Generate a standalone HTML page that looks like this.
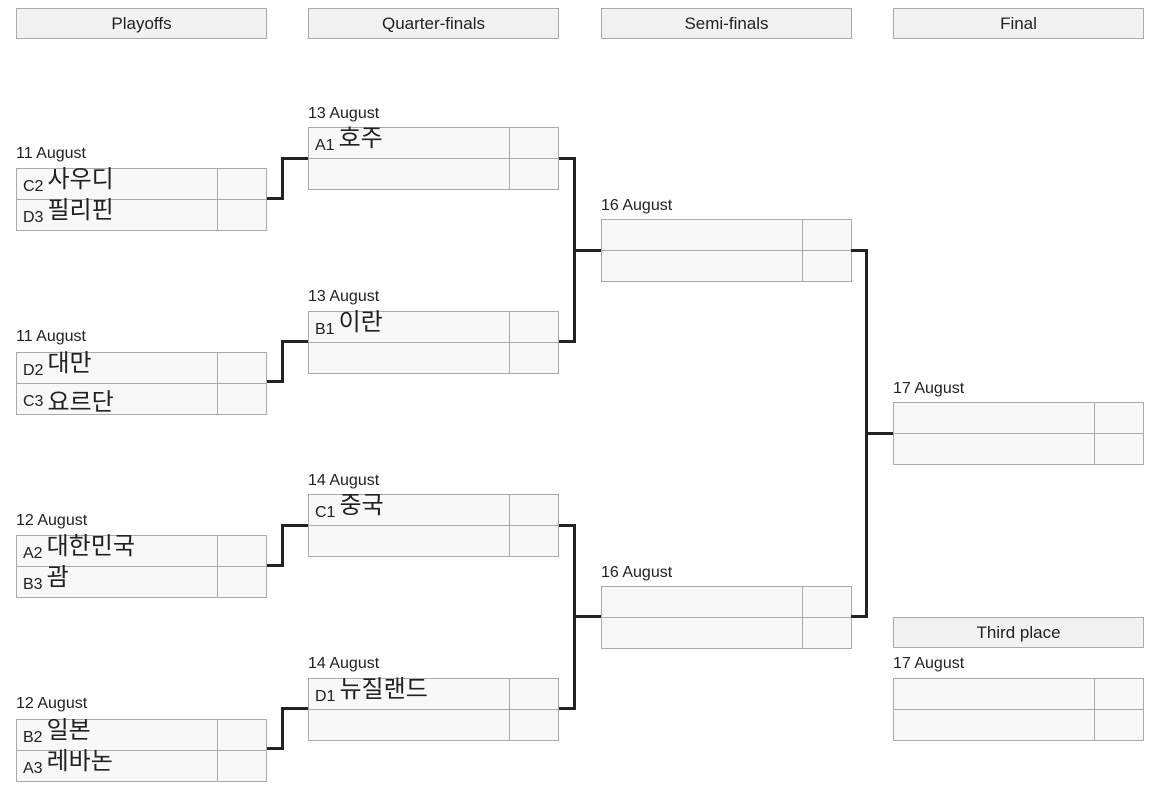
<!DOCTYPE html>
<html><head><meta charset="utf-8"><style>
*{box-sizing:border-box;margin:0;padding:0}
body{width:1166px;height:790px;background:#fff;position:relative;font-family:"Liberation Sans","Noto Sans CJK KR",sans-serif;color:#202122;overflow:hidden}
.h{position:absolute;height:31px;width:251px;background:#f2f2f2;border:1px solid #aaa;text-align:center;font-size:17px;line-height:29px}
.d{position:absolute;font-size:16px;line-height:18px}
.m{position:absolute;width:251px;height:63px}
.r{position:absolute;left:0;width:251px;height:32px;border:1px solid #aaa;background:#f8f8f8}
.r .s{position:absolute;right:0;top:-1px;width:49px;height:32px;border:1px solid #aaa;border-right:none}
.r .t{position:absolute;left:6px;top:6px;font-size:16px;line-height:18px;white-space:nowrap}
.r .k{font-size:24px;position:relative;top:-4px;margin-left:4px}
.l{position:absolute;background:#222}
</style></head><body>
<div class="h" style="left:16px;top:8px">Playoffs</div>
<div class="h" style="left:308px;top:8px">Quarter-finals</div>
<div class="h" style="left:601px;top:8px">Semi-finals</div>
<div class="h" style="left:893px;top:8px">Final</div>
<div class="h" style="left:893px;top:617px">Third place</div>

<!-- playoffs -->
<div class="d" style="left:16px;top:145px">11 August</div>
<div class="m" style="left:16px;top:168px"><div class="r" style="top:0"><span class="t">C2<span class="k">사우디</span></span><div class="s"></div></div><div class="r" style="top:31px"><span class="t">D3<span class="k">필리핀</span></span><div class="s"></div></div></div>
<div class="d" style="left:16px;top:328px">11 August</div>
<div class="m" style="left:16px;top:352px"><div class="r" style="top:0"><span class="t">D2<span class="k">대만</span></span><div class="s"></div></div><div class="r" style="top:31px"><span class="t">C3<span class="k" style="top:4px">요르단</span></span><div class="s"></div></div></div>
<div class="d" style="left:16px;top:512px">12 August</div>
<div class="m" style="left:16px;top:535px"><div class="r" style="top:0"><span class="t">A2<span class="k">대한민국</span></span><div class="s"></div></div><div class="r" style="top:31px"><span class="t">B3<span class="k">괌</span></span><div class="s"></div></div></div>
<div class="d" style="left:16px;top:695px">12 August</div>
<div class="m" style="left:16px;top:719px"><div class="r" style="top:0"><span class="t">B2<span class="k">일본</span></span><div class="s"></div></div><div class="r" style="top:31px"><span class="t">A3<span class="k">레바논</span></span><div class="s"></div></div></div>

<!-- QF -->
<div class="d" style="left:308px;top:105px">13 August</div>
<div class="m" style="left:308px;top:127px"><div class="r" style="top:0"><span class="t">A1<span class="k">호주</span></span><div class="s"></div></div><div class="r" style="top:31px"><div class="s"></div></div></div>
<div class="d" style="left:308px;top:288px">13 August</div>
<div class="m" style="left:308px;top:311px"><div class="r" style="top:0"><span class="t">B1<span class="k">이란</span></span><div class="s"></div></div><div class="r" style="top:31px"><div class="s"></div></div></div>
<div class="d" style="left:308px;top:472px">14 August</div>
<div class="m" style="left:308px;top:494px"><div class="r" style="top:0"><span class="t">C1<span class="k">중국</span></span><div class="s"></div></div><div class="r" style="top:31px"><div class="s"></div></div></div>
<div class="d" style="left:308px;top:655px">14 August</div>
<div class="m" style="left:308px;top:678px"><div class="r" style="top:0"><span class="t">D1<span class="k">뉴질랜드</span></span><div class="s"></div></div><div class="r" style="top:31px"><div class="s"></div></div></div>

<!-- SF -->
<div class="d" style="left:601px;top:197px">16 August</div>
<div class="m" style="left:601px;top:219px"><div class="r" style="top:0"><div class="s"></div></div><div class="r" style="top:31px"><div class="s"></div></div></div>
<div class="d" style="left:601px;top:564px">16 August</div>
<div class="m" style="left:601px;top:586px"><div class="r" style="top:0"><div class="s"></div></div><div class="r" style="top:31px"><div class="s"></div></div></div>

<!-- Final -->
<div class="d" style="left:893px;top:380px">17 August</div>
<div class="m" style="left:893px;top:402px"><div class="r" style="top:0"><div class="s"></div></div><div class="r" style="top:31px"><div class="s"></div></div></div>
<div class="d" style="left:893px;top:655px">17 August</div>
<div class="m" style="left:893px;top:678px"><div class="r" style="top:0"><div class="s"></div></div><div class="r" style="top:31px"><div class="s"></div></div></div>

<!-- connectors playoffs->QF -->
<div class="l" style="left:267px;top:197px;width:17px;height:3px"></div>
<div class="l" style="left:281px;top:157px;width:3px;height:43px"></div>
<div class="l" style="left:281px;top:157px;width:27px;height:3px"></div>

<div class="l" style="left:267px;top:380px;width:17px;height:3px"></div>
<div class="l" style="left:281px;top:340px;width:3px;height:43px"></div>
<div class="l" style="left:281px;top:340px;width:27px;height:3px"></div>

<div class="l" style="left:267px;top:564px;width:17px;height:3px"></div>
<div class="l" style="left:281px;top:524px;width:3px;height:43px"></div>
<div class="l" style="left:281px;top:524px;width:27px;height:3px"></div>

<div class="l" style="left:267px;top:747px;width:17px;height:3px"></div>
<div class="l" style="left:281px;top:707px;width:3px;height:43px"></div>
<div class="l" style="left:281px;top:707px;width:27px;height:3px"></div>

<!-- QF->SF -->
<div class="l" style="left:559px;top:157px;width:17px;height:3px"></div>
<div class="l" style="left:559px;top:340px;width:17px;height:3px"></div>
<div class="l" style="left:573px;top:157px;width:3px;height:186px"></div>
<div class="l" style="left:573px;top:249px;width:28px;height:3px"></div>

<div class="l" style="left:559px;top:524px;width:17px;height:3px"></div>
<div class="l" style="left:559px;top:707px;width:17px;height:3px"></div>
<div class="l" style="left:573px;top:524px;width:3px;height:186px"></div>
<div class="l" style="left:573px;top:615px;width:28px;height:3px"></div>

<!-- SF->Final -->
<div class="l" style="left:851px;top:249px;width:17px;height:3px"></div>
<div class="l" style="left:851px;top:615px;width:17px;height:3px"></div>
<div class="l" style="left:865px;top:249px;width:3px;height:369px"></div>
<div class="l" style="left:865px;top:432px;width:28px;height:3px"></div>
</body></html>
